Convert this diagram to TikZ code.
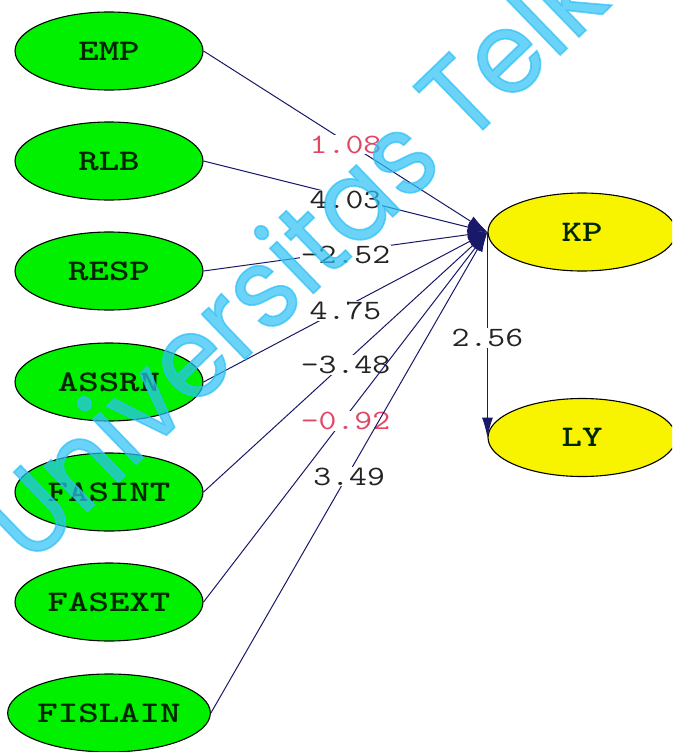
\documentclass[tikz,border=0pt]{standalone}
\usepackage{fontspec}
\usepackage{graphicx}
\usetikzlibrary{shapes.geometric,arrows.meta}
\newfontfamily\markfont{Poppins}[FakeBold=1.5]
\definecolor{exogreen}{RGB}{0,240,0}
\definecolor{endoyellow}{RGB}{248,244,0}
\definecolor{pathblue}{RGB}{25,25,105}
\definecolor{valgray}{RGB}{35,35,35}
\definecolor{valred}{RGB}{225,70,100}
\definecolor{markcyan}{RGB}{45,193,246}
% wide typewriter lettering for construct names and t-values
\newcommand{\tagtext}[1]{\scalebox{1.3}[1]{#1}}
\newcommand{\valtext}[1]{\scalebox{1.24}[1]{#1}}
\tikzset{
  latent/.style={ellipse, draw=black, line width=1.1pt, minimum width=188pt,
    minimum height=78pt, inner sep=0pt,
    font=\ttfamily\bfseries\fontsize{30}{30}\selectfont, text=black!85!green},
  exo/.style={latent, fill=exogreen},
  endo/.style={latent, fill=endoyellow},
  pathline/.style={draw=pathblue, line width=1pt,
    -{Latex[length=20pt,width=11pt]}},
  coef/.style={fill=white, inner sep=1pt, text=valgray,
    font=\ttfamily\fontsize{28}{28}\selectfont},
  neg/.style={coef, text=valred},
  wmark/.style={font=\markfont\fontsize{114}{114}\selectfont, text=markcyan,
    opacity=0.7, text opacity=0.7, rotate=44, anchor=base west, inner sep=0pt}
}
\begin{document}
\begin{tikzpicture}[x=1pt, y=-1pt]
\useasboundingbox (0,0) rectangle (672,752);
\clip (0,0) rectangle (672,752);
\fill[white] (0,0) rectangle (672,752);

% exogenous constructs
\node[exo] (EMP)    at (109,51)  {\tagtext{EMP}};
\node[exo] (RLB)    at (109,161) {\tagtext{RLB}};
\node[exo] (RESP)   at (109,271) {\tagtext{RESP}};
\node[exo] (ASSRN)  at (109,382) {\tagtext{ASSRN}};
\node[exo] (FASINT) at (109,492) {\tagtext{FASINT}};
\node[exo] (FASEXT) at (109,602) {\tagtext{FASEXT}};
\node[exo] (FISLAIN) at (109,713) {\tagtext{FISLAIN}};

% endogenous constructs
\node[endo] (KP) at (582,232)   {\tagtext{KP}};
\node[endo] (LY) at (582,437.5) {\tagtext{LY}};

% structural paths with t-values
\draw[pathline] (EMP.east)     -- node[neg,  pos=0.5, yshift=-3pt] {\valtext{1.08}}  (KP.west);
\draw[pathline] (RLB.east)     -- node[coef, pos=0.5, yshift=-3pt] {\valtext{4.03}}  (KP.west);
\draw[pathline] (RESP.east)    -- node[coef, pos=0.5, yshift=-3pt] {\valtext{-2.52}} (KP.west);
\draw[pathline] (ASSRN.east)   -- node[coef, pos=0.5, yshift=-4pt] {\valtext{4.75}}  (KP.west);
\draw[pathline] (FASINT.east)  -- node[coef, pos=0.5, yshift=-3pt] {\valtext{-3.48}} (KP.west);
\draw[pathline] (FASEXT.east)  -- node[neg,  pos=0.5, yshift=-4pt] {\valtext{-0.92}} (KP.west);
\draw[pathline] (FISLAIN.east) -- node[coef, pos=0.5, yshift=-4pt] {\valtext{3.49}}  (KP.west);
\draw[pathline] (KP.west)      -- node[coef, pos=0.515] {\valtext{2.56}} (LY.west);

% watermark
\node[wmark] (wm) at (30,567) {\scalebox{0.93}[1]{Universitas Telkom}};
\end{tikzpicture}
\end{document}
